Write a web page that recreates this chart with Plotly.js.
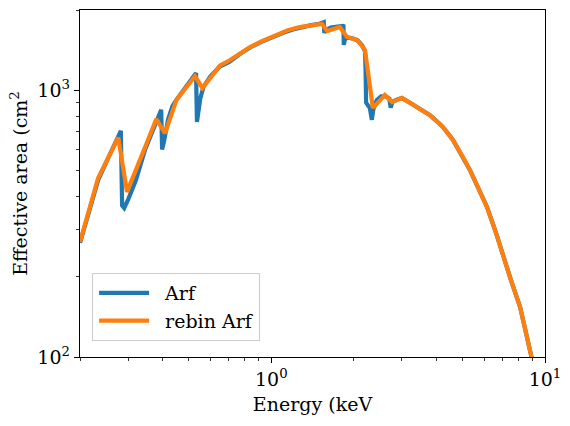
<!DOCTYPE html>
<html>
<head>
<meta charset="utf-8">
<script src="https://cdn.plot.ly/plotly-3.0.1.min.js"></script>
<style>html,body{margin:0;padding:0;background:#fff;}#chart{width:570px;height:426px;}</style>
</head>
<body>
<div id="chart"></div>
<script>
// Arf (fine resolution)
const arfEnergy = [0.2,0.21,0.22,0.233,0.25,0.265,0.278,0.282,0.285,0.29,0.30,0.32,0.346,0.37,0.39,0.396,0.399,0.405,0.42,0.435,0.45,0.48,0.50,0.526,0.531,0.535,0.54,0.55,0.565,0.60,0.65,0.70,0.77,0.84,0.92,1.0,1.1,1.2,1.3,1.4,1.5,1.545,1.555,1.562,1.575,1.65,1.75,1.82,1.835,1.84,1.86,1.92,2.0,2.08,2.15,2.2,2.21,2.22,2.25,2.29,2.33,2.36,2.43,2.52,2.62,2.70,2.73,2.77,2.9,3.0,3.2,3.4,3.6,3.8,4.0,4.24,4.61,5.0,5.32,5.7,6.14,6.6,7.03,7.5,8.11,8.6,8.96,9.3,9.6];
const arfArea = [268,320,380,460,540,615,695,705,370,362,390,460,600,720,825,845,600,640,780,870,920,1010,1070,1150,1160,760,820,930,1030,1130,1230,1275,1370,1450,1520,1580,1640,1690,1730,1755,1775,1790,1800,1640,1680,1720,1740,1745,1740,1480,1560,1575,1560,1530,1470,1400,1200,900,880,860,775,850,920,950,950,930,860,905,925,935,900,866,840,807,770,728,651,564,502,431,365,295,237,195,154,120,100,85,72];
// rebinned Arf
const rebinEnergy = [0.2,0.233,0.276,0.297,0.346,0.38,0.409,0.45,0.526,0.56,0.65,0.70,0.77,0.836,0.92,1.0,1.15,1.27,1.53,1.60,1.78,1.89,2.06,2.2,2.35,2.60,2.76,3.0,3.4,3.8,4.24,4.61,5.0,5.32,5.7,6.14,6.6,7.03,7.5,8.11,8.6,8.96,9.6];
const rebinArea = [270,469,665,416,612,780,690,920,1130,1020,1240,1290,1375,1452,1525,1580,1680,1726,1775,1667,1726,1585,1545,1416,859,960,903,936,866,807,728,651,564,502,431,365,295,237,195,154,120,100,72];

const xMajor = [1,10];
const xMajorText = ['10<sup>0</sup>','10<sup>1</sup>'];
const xMinor = [0.2,0.3,0.4,0.5,0.6,0.7,0.8,0.9,2,3,4,5,6,7,8,9];
const yMajor = [100,1000];
const yMajorText = ['10<sup>2</sup>','10<sup>3</sup>'];
const yMinor = [200,300,400,500,600,700,800,900,2000];

const font = 'DejaVu Serif';
const data = [
  {x: arfEnergy, y: arfArea, type:'scatter', mode:'lines', name:'Arf',
   line:{color:'#1f77b4', width:4.2, shape:'linear'}},
  {x: rebinEnergy, y: rebinArea, type:'scatter', mode:'lines', name:'rebin Arf',
   line:{color:'#ff7f0e', width:4.2}}
];
const axisCommon = {type:'log', showgrid:false, zeroline:false, showline:true, linecolor:'black', linewidth:1.2,
  mirror:true, ticks:'outside', ticklen:5, tickwidth:1, tickcolor:'black', tickmode:'array',
  tickfont:{family:font, size:19, color:'black'}};
const layout = {
  width:570, height:426,
  margin:{l:80, r:25, t:10, b:69},
  paper_bgcolor:'white', plot_bgcolor:'white',
  font:{family:font, color:'black'},
  showlegend:true,
  xaxis: Object.assign({}, axisCommon, {
    range:[Math.log10(0.2), 1], tickvals:xMajor, ticktext:xMajorText,
    minor:{tickmode:'array', tickvals:xMinor, ticklen:3, tickwidth:0.8, tickcolor:'black', ticks:'outside', showgrid:false},
    title:{text:'Energy (keV', font:{family:font, size:19, color:'black'}, standoff:8}
  }),
  yaxis: Object.assign({}, axisCommon, {
    range:[2, Math.log10(2000)], tickvals:yMajor, ticktext:yMajorText,
    minor:{tickmode:'array', tickvals:yMinor, ticklen:3, tickwidth:0.8, tickcolor:'black', ticks:'outside', showgrid:false},
    title:{text:'Effective area (cm<sup>2</sup>', font:{family:font, size:19, color:'black'}, standoff:4}
  }),
  legend:{x:0.026, y:0.242, xanchor:'left', yanchor:'top', bgcolor:'rgba(255,255,255,0.8)',
    bordercolor:'#cccccc', borderwidth:1, itemwidth:62, font:{family:font, size:19, color:'black'}}
};
Plotly.newPlot('chart', data, layout, {displayModeBar:false, staticPlot:true}).then(function(gd){
  // lengthen the legend line samples like matplotlib's handles
  gd.querySelectorAll('.legend .legendlines path').forEach(function(p){
    p.setAttribute('d', 'M6,0h50');
  });
});
</script>
</body>
</html>
